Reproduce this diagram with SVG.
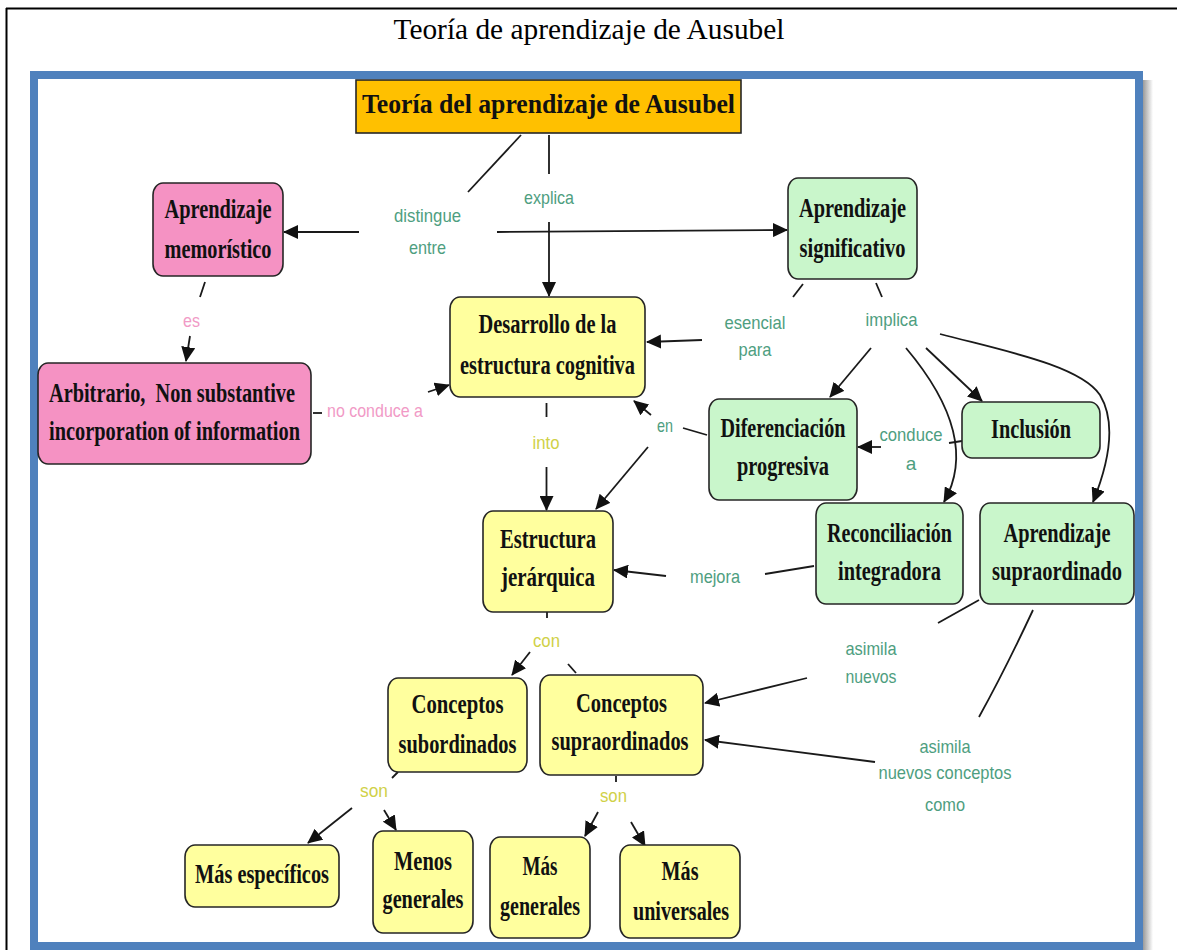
<svg xmlns="http://www.w3.org/2000/svg" width="1177" height="950" viewBox="0 0 1177 950">
<defs>
<style>
.bx{stroke:#262626;stroke-width:1.6}
.pink{fill:#F592C3}.green{fill:#C9F6CB}.yellow{fill:#FFFF9E}.orange{fill:#FFC000}
.nt{font-family:"Liberation Serif","Times New Roman",serif;font-weight:bold;font-size:28px;fill:#111;text-anchor:middle}
.lbl{font-family:"Liberation Sans",Arial,sans-serif;font-size:19px;text-anchor:middle}
.teal{fill:#4E9E80}.lpink{fill:#F19AC6}.lyel{fill:#D0D147}
.conn line,.conn path{stroke:#1a1a1a;stroke-width:1.8;fill:none}
.ar{marker-end:url(#ah)}
</style>
<marker id="ah" viewBox="0 0 15 14" refX="14" refY="7" markerWidth="15" markerHeight="14" markerUnits="userSpaceOnUse" orient="auto">
<path d="M0,0 L15,7 L0,14 z" fill="#111"/>
</marker>
<linearGradient id="shd" x1="0" y1="0" x2="1" y2="0">
<stop offset="0" stop-color="#9a9a9a"/>
<stop offset="1" stop-color="#ffffff"/>
</linearGradient>
</defs>
<rect x="0" y="0" width="1177" height="950" fill="#fff"/>
<g id="page-border">
<line x1="6" y1="8.5" x2="1177" y2="8.5" stroke="#000" stroke-width="2"/>
<line x1="6.5" y1="8" x2="6.5" y2="950" stroke="#000" stroke-width="2"/>
</g>
<text id="caption" x="589" y="39" font-family="'Liberation Serif','Times New Roman',serif" font-size="29" fill="#000" text-anchor="middle" textLength="391" lengthAdjust="spacingAndGlyphs">Teoría de aprendizaje de Ausubel</text>
<g id="frame">
<rect x="1143" y="80" width="10" height="870" fill="url(#shd)"/>
<rect x="34" y="75" width="1105" height="871" fill="#fff" stroke="#4F81BD" stroke-width="8"/>
</g>
<g id="connectors" class="conn">
<line x1="521" y1="135" x2="468" y2="192"/>
<line class="ar" x1="359" y1="232" x2="284" y2="232"/>
<line class="ar" x1="497" y1="232" x2="787" y2="230"/>
<line x1="549" y1="135" x2="549" y2="174"/>
<line class="ar" x1="549" y1="222" x2="549" y2="296"/>
<line x1="205" y1="282" x2="200" y2="297"/>
<line class="ar" x1="190" y1="336" x2="186" y2="361"/>
<line x1="313" y1="413" x2="322" y2="413"/>
<line class="ar" x1="428" y1="392" x2="449" y2="385"/>
<line x1="546.5" y1="403" x2="546.5" y2="417"/>
<line class="ar" x1="546.5" y1="467" x2="546.5" y2="510"/>
<line x1="803" y1="284" x2="793" y2="297"/>
<line class="ar" x1="702" y1="340" x2="647" y2="342"/>
<line x1="876" y1="283" x2="882" y2="297"/>
<line class="ar" x1="871" y1="348" x2="830" y2="397"/>
<path class="ar" d="M906,348 Q981,437 944,502"/>
<line class="ar" x1="926" y1="348" x2="982" y2="401"/>
<path class="ar" d="M940,334 C1000,350 1080,365 1100,395 C1115,420 1112,455 1093,502"/>
<line x1="707" y1="435" x2="683" y2="428"/>
<line class="ar" x1="651" y1="415" x2="634" y2="401"/>
<line class="ar" x1="648" y1="447" x2="596" y2="509"/>
<line x1="962" y1="441" x2="949" y2="443"/>
<line class="ar" x1="881" y1="447" x2="858" y2="447"/>
<line x1="814" y1="566" x2="765" y2="574"/>
<line class="ar" x1="666" y1="576" x2="614" y2="570"/>
<line x1="979" y1="600" x2="938" y2="623"/>
<line class="ar" x1="807" y1="678" x2="705" y2="703"/>
<path d="M1033,610 Q1005,670 979,717"/>
<line class="ar" x1="875" y1="762" x2="705" y2="740"/>
<line x1="547" y1="612" x2="547" y2="618"/>
<line class="ar" x1="530" y1="652" x2="512" y2="675"/>
<line x1="568" y1="664" x2="576" y2="673"/>
<line x1="398" y1="772" x2="392" y2="778"/>
<line class="ar" x1="352" y1="808" x2="308" y2="843"/>
<line class="ar" x1="384" y1="810" x2="396" y2="830"/>
<line x1="616" y1="776" x2="616" y2="782"/>
<line class="ar" x1="598" y1="812" x2="585" y2="836"/>
<line class="ar" x1="631" y1="822" x2="645" y2="846"/>
</g>
<g id="labels">
<text class="lbl teal" x="427.5" y="222" textLength="67" lengthAdjust="spacingAndGlyphs">distingue</text>
<text class="lbl teal" x="427.5" y="254" textLength="37" lengthAdjust="spacingAndGlyphs">entre</text>
<text class="lbl teal" x="549" y="204" textLength="50" lengthAdjust="spacingAndGlyphs">explica</text>
<text class="lbl lpink" x="191.5" y="327" textLength="17" lengthAdjust="spacingAndGlyphs">es</text>
<text class="lbl lpink" x="375" y="417" textLength="96" lengthAdjust="spacingAndGlyphs">no conduce a</text>
<text class="lbl teal" x="755" y="329" textLength="61" lengthAdjust="spacingAndGlyphs">esencial</text>
<text class="lbl teal" x="755" y="356" textLength="33" lengthAdjust="spacingAndGlyphs">para</text>
<text class="lbl teal" x="891.5" y="326" textLength="52" lengthAdjust="spacingAndGlyphs">implica</text>
<text class="lbl lyel" x="546" y="449" textLength="27" lengthAdjust="spacingAndGlyphs">into</text>
<text class="lbl teal" x="665" y="432" textLength="16" lengthAdjust="spacingAndGlyphs">en</text>
<text class="lbl teal" x="911" y="441" textLength="63" lengthAdjust="spacingAndGlyphs">conduce</text>
<text class="lbl teal" x="911" y="470">a</text>
<text class="lbl teal" x="715" y="583" textLength="50" lengthAdjust="spacingAndGlyphs">mejora</text>
<text class="lbl teal" x="871" y="655" textLength="51" lengthAdjust="spacingAndGlyphs">asimila</text>
<text class="lbl teal" x="871" y="683" textLength="51" lengthAdjust="spacingAndGlyphs">nuevos</text>
<text class="lbl teal" x="945" y="753" textLength="51" lengthAdjust="spacingAndGlyphs">asimila</text>
<text class="lbl teal" x="945" y="779" textLength="133" lengthAdjust="spacingAndGlyphs">nuevos conceptos</text>
<text class="lbl teal" x="945" y="811" textLength="40" lengthAdjust="spacingAndGlyphs">como</text>
<text class="lbl lyel" x="546.5" y="647" textLength="27" lengthAdjust="spacingAndGlyphs">con</text>
<text class="lbl lyel" x="374" y="797" textLength="28" lengthAdjust="spacingAndGlyphs">son</text>
<text class="lbl lyel" x="613.5" y="802" textLength="27" lengthAdjust="spacingAndGlyphs">son</text>
</g>
<g id="n-header">
<rect class="bx orange" x="356" y="80" width="385" height="53"/>
<text class="nt" x="548.5" y="113" font-size="32" textLength="373" lengthAdjust="spacingAndGlyphs">Teoría del aprendizaje de Ausubel</text>
</g>
<g id="n-memoristico">
<rect class="bx pink" x="153" y="183" width="130" height="93" rx="10" ry="12"/>
<text class="nt" x="218" y="218" textLength="107" lengthAdjust="spacingAndGlyphs">Aprendizaje</text>
<text class="nt" x="218" y="258" textLength="107" lengthAdjust="spacingAndGlyphs">memorístico</text>
</g>
<g id="n-significativo">
<rect class="bx green" x="788" y="178" width="129" height="101" rx="10" ry="12"/>
<text class="nt" x="852.5" y="217" textLength="107" lengthAdjust="spacingAndGlyphs">Aprendizaje</text>
<text class="nt" x="852.5" y="257" textLength="106" lengthAdjust="spacingAndGlyphs">significativo</text>
</g>
<g id="n-desarrollo">
<rect class="bx yellow" x="450" y="297" width="195" height="100" rx="10" ry="12"/>
<text class="nt" x="547.5" y="333" textLength="138" lengthAdjust="spacingAndGlyphs">Desarrollo de la</text>
<text class="nt" x="547.5" y="374" textLength="175" lengthAdjust="spacingAndGlyphs">estructura cognitiva</text>
</g>
<g id="n-arbitrario">
<rect class="bx pink" x="38" y="363" width="273" height="101" rx="10" ry="12"/>
<text class="nt" x="172" y="402" textLength="246" lengthAdjust="spacingAndGlyphs" xml:space="preserve">Arbitrario,  Non substantive</text>
<text class="nt" x="174.5" y="440" textLength="251" lengthAdjust="spacingAndGlyphs">incorporation of information</text>
</g>
<g id="n-jerarquica">
<rect class="bx yellow" x="483" y="511" width="130" height="101" rx="10" ry="12"/>
<text class="nt" x="548" y="548" textLength="96" lengthAdjust="spacingAndGlyphs">Estructura</text>
<text class="nt" x="548" y="586" textLength="94" lengthAdjust="spacingAndGlyphs">jerárquica</text>
</g>
<g id="n-diferenciacion">
<rect class="bx green" x="709" y="399" width="148" height="101" rx="10" ry="12"/>
<text class="nt" x="783" y="437" textLength="125" lengthAdjust="spacingAndGlyphs">Diferenciación</text>
<text class="nt" x="783" y="475" textLength="92" lengthAdjust="spacingAndGlyphs">progresiva</text>
</g>
<g id="n-inclusion">
<rect class="bx green" x="962" y="402" width="138" height="56" rx="10" ry="12"/>
<text class="nt" x="1031" y="438" textLength="80" lengthAdjust="spacingAndGlyphs">Inclusión</text>
</g>
<g id="n-reconciliacion">
<rect class="bx green" x="816" y="503" width="147" height="101" rx="10" ry="12"/>
<text class="nt" x="889.5" y="542" textLength="125" lengthAdjust="spacingAndGlyphs">Reconciliación</text>
<text class="nt" x="889.5" y="580" textLength="103" lengthAdjust="spacingAndGlyphs">integradora</text>
</g>
<g id="n-supraordinado">
<rect class="bx green" x="980" y="503" width="154" height="101" rx="10" ry="12"/>
<text class="nt" x="1057" y="542" textLength="107" lengthAdjust="spacingAndGlyphs">Aprendizaje</text>
<text class="nt" x="1057" y="580" textLength="130" lengthAdjust="spacingAndGlyphs">supraordinado</text>
</g>
<g id="n-subordinados">
<rect class="bx yellow" x="388" y="678" width="139" height="94" rx="10" ry="12"/>
<text class="nt" x="457.5" y="713" textLength="92" lengthAdjust="spacingAndGlyphs">Conceptos</text>
<text class="nt" x="457.5" y="753" textLength="118" lengthAdjust="spacingAndGlyphs">subordinados</text>
</g>
<g id="n-supraordinados">
<rect class="bx yellow" x="540" y="675" width="163" height="100" rx="10" ry="12"/>
<text class="nt" x="621.5" y="712" textLength="91" lengthAdjust="spacingAndGlyphs">Conceptos</text>
<text class="nt" x="620" y="750" textLength="137" lengthAdjust="spacingAndGlyphs">supraordinados</text>
</g>
<g id="n-especificos">
<rect class="bx yellow" x="185" y="845" width="154" height="62" rx="10" ry="12"/>
<text class="nt" x="262" y="883" textLength="134" lengthAdjust="spacingAndGlyphs">Más específicos</text>
</g>
<g id="n-menos-generales">
<rect class="bx yellow" x="373" y="831" width="100" height="102" rx="10" ry="12"/>
<text class="nt" x="423" y="870" textLength="58" lengthAdjust="spacingAndGlyphs">Menos</text>
<text class="nt" x="423" y="908" textLength="81" lengthAdjust="spacingAndGlyphs">generales</text>
</g>
<g id="n-mas-generales">
<rect class="bx yellow" x="490" y="837" width="100" height="101" rx="10" ry="12"/>
<text class="nt" x="540" y="875" textLength="35" lengthAdjust="spacingAndGlyphs">Más</text>
<text class="nt" x="540" y="915" textLength="80" lengthAdjust="spacingAndGlyphs">generales</text>
</g>
<g id="n-universales">
<rect class="bx yellow" x="620" y="845" width="120" height="93" rx="10" ry="12"/>
<text class="nt" x="680" y="880" textLength="37" lengthAdjust="spacingAndGlyphs">Más</text>
<text class="nt" x="681" y="920" textLength="96" lengthAdjust="spacingAndGlyphs">universales</text>
</g>
</svg>
